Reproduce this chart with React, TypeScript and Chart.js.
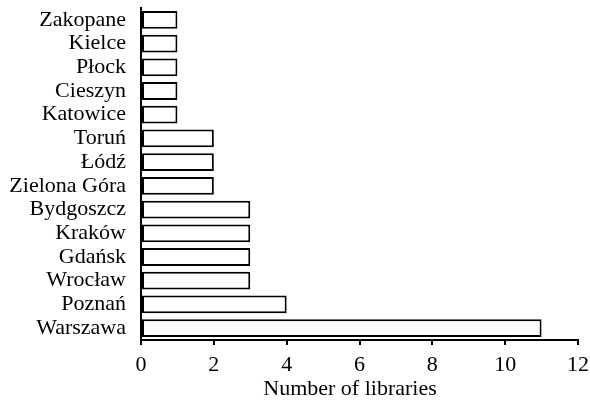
import React, { useEffect, useRef } from "react";
import { Chart, registerables } from "chart.js";

Chart.register(...registerables);

const cities = [
  "Zakopane",
  "Kielce",
  "Płock",
  "Cieszyn",
  "Katowice",
  "Toruń",
  "Łódź",
  "Zielona Góra",
  "Bydgoszcz",
  "Kraków",
  "Gdańsk",
  "Wrocław",
  "Poznań",
  "Warszawa",
];
const libraryCounts = [1, 1, 1, 1, 1, 2, 2, 2, 3, 3, 3, 3, 4, 11];
const xTitle = "Number of libraries";

const FONT = "'Liberation Serif', 'Times New Roman', serif";

// Axis title drawn below the tick labels
const axisTitlePlugin = {
  id: "axisTitle",
  afterDraw(chart: any) {
    const ctx = chart.ctx;
    ctx.save();
    ctx.font = `22px ${FONT}`;
    ctx.fillStyle = "#000";
    ctx.textAlign = "center";
    ctx.textBaseline = "alphabetic";
    ctx.fillText(xTitle, 350, 395);
    ctx.restore();
  },
};

export default function App() {
  const canvasRef = useRef<HTMLCanvasElement | null>(null);

  useEffect(() => {
    document.body.style.margin = "0";
    const canvas = canvasRef.current;
    if (!canvas) return;
    const chart = new Chart(canvas, {
      type: "bar",
      data: {
        labels: cities,
        datasets: [
          {
            data: libraryCounts,
            backgroundColor: "#ffffff",
            borderColor: "#000000",
            borderWidth: 2,
            borderSkipped: false,
            categoryPercentage: 1,
            barPercentage: 0.75,
          },
        ],
      },
      options: {
        indexAxis: "y",
        animation: false,
        responsive: false,
        maintainAspectRatio: false,
        layout: { padding: { top: 8, right: 12, left: 0, bottom: 0 } },
        plugins: {
          legend: { display: false },
          tooltip: { enabled: false },
        },
        scales: {
          x: {
            min: 0,
            max: 12,
            ticks: {
              stepSize: 2,
              color: "#000",
              font: { family: FONT, size: 22 },
              padding: 7,
              maxRotation: 0,
            },
            grid: {
              display: true,
              drawOnChartArea: false,
              drawTicks: true,
              tickLength: 5,
              color: "#000",
              lineWidth: 2,
            },
            border: { display: true, color: "#000", width: 2 },
            afterFit(scale: any) {
              scale.height = 61;
              scale.paddingLeft = 0;
              scale.paddingRight = 0;
            },
          },
          y: {
            ticks: {
              color: "#000",
              font: { family: FONT, size: 22 },
              padding: 7,
              autoSkip: false,
            },
            grid: { display: false },
            border: { display: true, color: "#000", width: 2 },
            afterFit(scale: any) {
              scale.width = 141;
              scale.paddingTop = 0;
              scale.paddingBottom = 0;
            },
          },
        },
      },
      plugins: [axisTitlePlugin],
    });
    return () => chart.destroy();
  }, []);

  return <canvas ref={canvasRef} width={590} height={401} style={{ display: "block" }} />;
}
